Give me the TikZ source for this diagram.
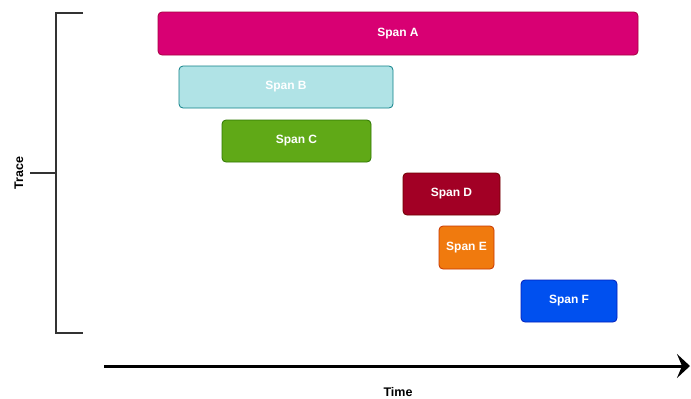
\documentclass[tikz,border=0pt]{standalone}
\usepackage{fontspec}
\setmainfont{Liberation Sans}
\usetikzlibrary{arrows.meta}
\definecolor{aFill}{HTML}{D80073}\definecolor{aLine}{HTML}{A50040}
\definecolor{bFill}{HTML}{B0E3E6}\definecolor{bLine}{HTML}{0E8088}
\definecolor{cFill}{HTML}{60A917}\definecolor{cLine}{HTML}{2D7600}
\definecolor{dFill}{HTML}{A20025}\definecolor{dLine}{HTML}{6F0000}
\definecolor{eFill}{HTML}{F07A0E}\definecolor{eLine}{HTML}{C73500}
\definecolor{fFill}{HTML}{0050EF}\definecolor{fLine}{HTML}{001DBC}
\definecolor{axis}{HTML}{333333}
\begin{document}
\begin{tikzpicture}[x=1pt,y=-1pt,
  span/.style={draw=#1Line,fill=#1Fill,rounded corners=4pt,line width=0.8pt,
    text=white,font=\bfseries\fontsize{12}{14}\selectfont,inner sep=0pt},
  bracket/.style={draw=axis,line width=1.6pt},
  label/.style={font=\bfseries\fontsize{12.5}{14}\selectfont,text=black},
  timearrow/.style={line width=3pt,-{Stealth[length=13pt 0,width=24pt 0,inset=5pt 0]}}]
\useasboundingbox (0,0) rectangle (691,399);
% trace bracket
\coordinate (bt) at (83,13);
\coordinate (bb) at (83,333);
\coordinate (bm) at (56,173);
\coordinate (bl) at (30,173);
\draw[bracket] (bt) -- (56,13) -- (56,333) -- (bb);
\draw[bracket] (bl) -- (bm);
\node[label,rotate=90] (trace) at (19,173) {Trace};
% spans
\node[span=a,minimum width=480pt,minimum height=43pt] (A) at (398,33.5) {Span A};
\node[span=b,minimum width=214pt,minimum height=42pt] (B) at (286,87) {Span B};
\node[span=c,minimum width=149pt,minimum height=42pt] (C) at (296.5,141) {Span C};
\node[span=d,minimum width=97pt,minimum height=42pt] (D) at (451.5,194) {Span D};
\node[span=e,minimum width=55pt,minimum height=43pt] (E) at (466.5,247.5) {Span E};
\node[span=f,minimum width=96pt,minimum height=42pt] (F) at (569,301) {Span F};
% time axis
\coordinate (t0) at (104,366);
\coordinate (t1) at (690,366);
\draw[timearrow] (t0) -- (t1);
\node[label] (time) at (398,392) {Time};
\end{tikzpicture}
\end{document}
